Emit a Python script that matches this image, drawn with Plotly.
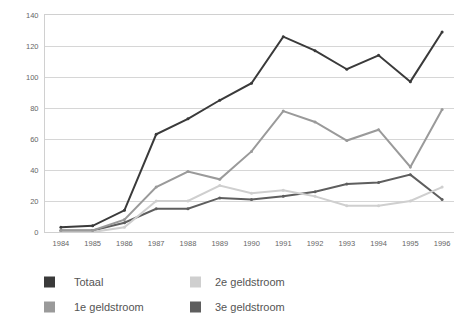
import plotly.graph_objects as go

years = ["1984", "1985", "1986", "1987", "1988", "1989", "1990", "1991", "1992", "1993", "1994", "1995", "1996"]
totaal = [3, 4, 14, 63, 73, 85, 96, 126, 117, 105, 114, 97, 129]
geld1 = [1, 1, 8, 29, 39, 34, 52, 78, 71, 59, 66, 42, 79]
geld2 = [0, 0, 3, 20, 20, 30, 25, 27, 23, 17, 17, 20, 29]
geld3 = [1, 1, 6, 15, 15, 22, 21, 23, 26, 31, 32, 37, 21]

series = [
    ("Totaal", totaal, "#3a3a3a"),
    ("1e geldstroom", geld1, "#9a9a9a"),
    ("2e geldstroom", geld2, "#cfcfcf"),
    ("3e geldstroom", geld3, "#5e5e5e"),
]

fig = go.Figure()
for name, vals, col in series[::-1]:
    fig.add_trace(go.Scatter(
        x=years, y=vals, name=name, mode="lines+markers",
        line=dict(color=col, width=2),
        marker=dict(size=3, color=col),
        showlegend=False,
    ))

# page has 8px body margin; plot area in page coords: x 45..458, y 15..232
fig.update_layout(
    width=454, height=307,
    margin=dict(l=37, r=4, t=7, b=83),
    paper_bgcolor="white", plot_bgcolor="white",
    font=dict(family="Liberation Sans, Arial, sans-serif", size=7.5, color="#555"),
    xaxis=dict(type="category", range=[-0.5, 12.5], showgrid=False,
               showline=True, linecolor="#d0d0d0", mirror=True, ticks="outside",
               ticklen=4, tickcolor="rgba(0,0,0,0)",
               tickfont=dict(size=7.5, color="#666")),
    yaxis=dict(range=[0, 140], dtick=20, showgrid=True, gridcolor="#d6d6d6",
               gridwidth=1, showline=True, linecolor="#d0d0d0", mirror=True,
               zeroline=False, ticks="outside", ticklen=4, tickcolor="rgba(0,0,0,0)",
               tickfont=dict(size=7.5, color="#666")),
)

legend_items = [
    ("Totaal", "#3a3a3a", 44, 72, 282),
    ("2e geldstroom", "#cfcfcf", 190, 213, 282),
    ("1e geldstroom", "#9a9a9a", 44, 72, 307),
    ("3e geldstroom", "#5e5e5e", 190, 213, 307),
]
for text, col, bx, tx, y in legend_items:
    fig.add_shape(type="rect", xref="paper", yref="paper",
                  x0=(bx - 45) / 413, x1=(bx - 45 + 11) / 413,
                  y0=(232 - (y + 5.5)) / 217, y1=(232 - (y - 5.5)) / 217,
                  fillcolor=col, line=dict(width=0))
    fig.add_annotation(text=text, xref="paper", yref="paper",
                       x=(tx - 45) / 413, y=(232 - y) / 217,
                       xanchor="left", yanchor="middle", showarrow=False,
                       font=dict(size=11, color="#555"))

fig.write_html("out.html")
